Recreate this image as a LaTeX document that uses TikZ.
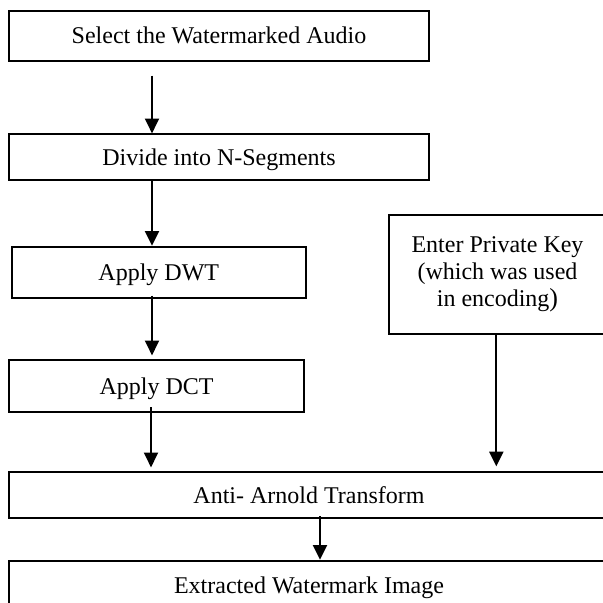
\documentclass[tikz,border=0pt]{standalone}
\usepackage{fontspec}
\setmainfont{Liberation Serif}
\usetikzlibrary{arrows.meta}
\begin{document}
\begin{tikzpicture}[x=1pt,y=-1pt,
  boxbase/.style={draw, line width=2pt, rectangle, inner sep=0pt,
    font=\fontsize{24}{27}\selectfont},
  stepbox/.style={boxbase, text height=16pt, text depth=0pt},
  arr/.style={line width=2pt, -{Triangle[length=14.7pt,width=14pt]}}]
\useasboundingbox (0,0) rectangle (603,603);
\clip (0,0) rectangle (603,603);

% main processing chain
\node[stepbox, minimum width=419.4pt, minimum height=50pt]   (b1) at (219,35.7)  {Select the Watermarked Audio};
\node[stepbox, minimum width=419.4pt, minimum height=45.7pt] (b2) at (219,157.2) {Divide into N-Segments};
\node[stepbox, minimum width=294.3pt, minimum height=51pt]   (b3) at (158.8,272.2) {Apply DWT};
\node[stepbox, minimum width=294.4pt, minimum height=51.7pt] (b4) at (156.5,386.2) {Apply DCT};
\node[stepbox, minimum width=599.4pt, minimum height=45.7pt] (b5) at (309,495.2) {Anti- Arnold Transform};
\node[stepbox, minimum width=599.4pt, minimum height=48.6pt] (b6) at (309,585)   {Extracted Watermark Image};

% key input
\node[boxbase, align=center, minimum width=217.6pt, minimum height=118.4pt] (key) at (497.5,274.5)
  {Enter Private Key\\(which was used\\in encoding{\fontsize{26}{27}\selectfont)}};

% connectors
\draw[arr] ([xshift=-67pt,yshift=-14pt]b1.south) -- ([xshift=-67pt]b2.north);
\draw[arr] ([xshift=-67pt]b2.south) -- ([xshift=-6.8pt]b3.north);
\draw[arr] ([xshift=-6.8pt,yshift=3pt]b3.south) -- ([xshift=-4.5pt,yshift=4pt]b4.north);
\draw[arr] ([xshift=-5.5pt,yshift=6pt]b4.south) -- ([xshift=-158pt,yshift=4pt]b5.north);
\draw[arr] ([xshift=-1.2pt]key.south) -- ([xshift=187.3pt,yshift=5pt]b5.north);
\draw[arr] ([xshift=11pt,yshift=3pt]b5.south) -- ([xshift=11pt]b6.north);
\end{tikzpicture}
\end{document}
